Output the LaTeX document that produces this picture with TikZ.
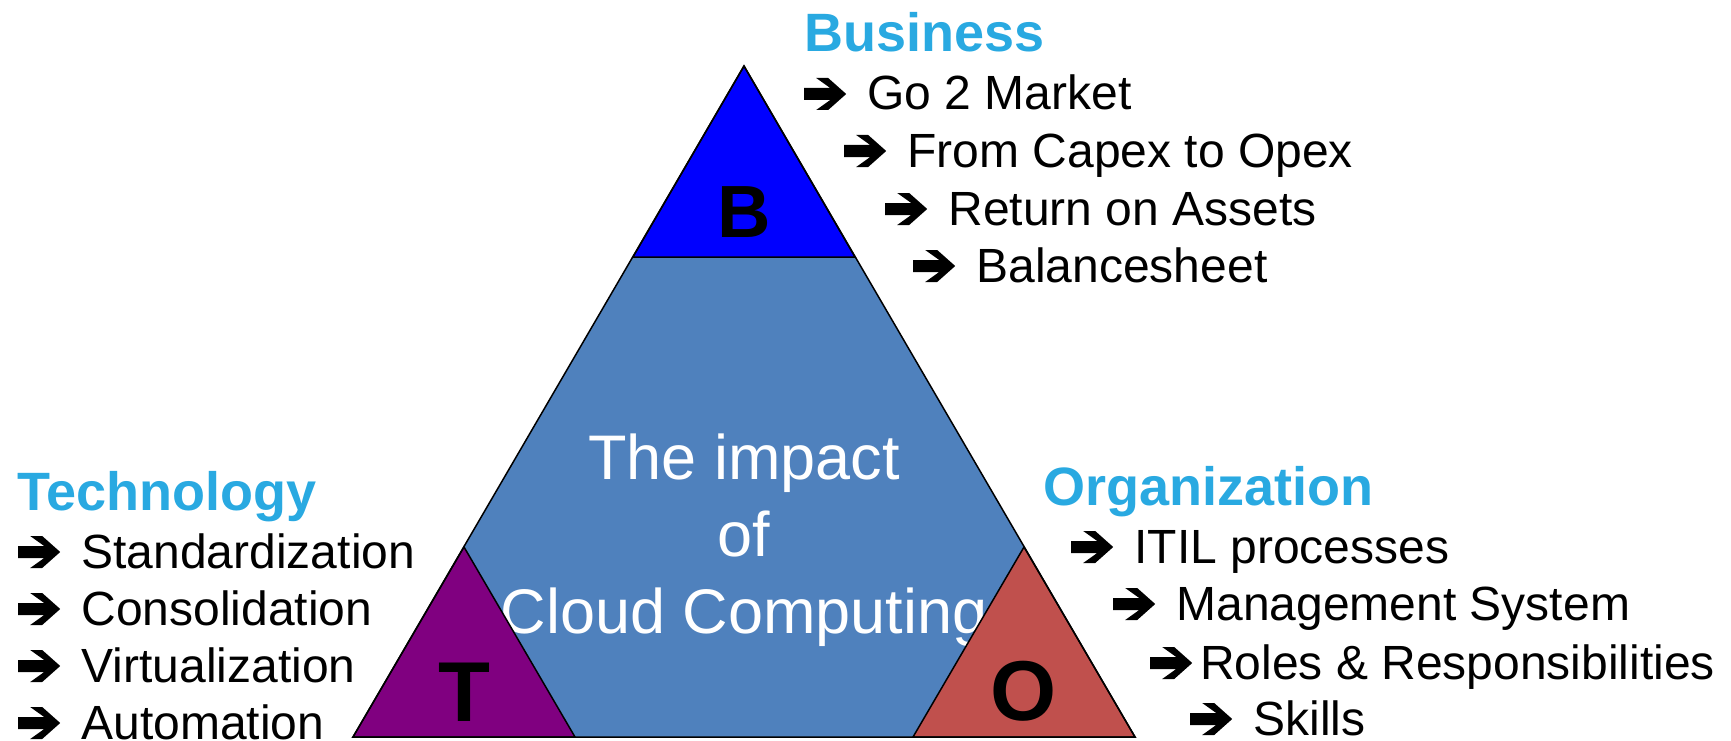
\documentclass[tikz,border=0pt]{standalone}
\usepackage{fontspec}
\setmainfont{Liberation Sans}
\usepackage{tikz}
\usetikzlibrary{positioning}
\definecolor{midblue}{HTML}{4F81BD}
\definecolor{bblue}{HTML}{0000FF}
\definecolor{tpurple}{HTML}{800080}
\definecolor{ored}{HTML}{C0504D}
\definecolor{headblue}{HTML}{29A9E1}
\tikzset{
    tri/.style = {draw=black, line width=1.5pt, line join=miter},
    head/.style = {anchor=base west, inner sep=0pt, text=headblue, font=\bfseries\fontsize{54}{60}\selectfont},
    item/.style = {anchor=base west, inner sep=0pt, font=\fontsize{48}{54}\selectfont},
    letter/.style = {anchor=base, inner sep=0pt, font=\bfseries\fontsize{85}{90}\selectfont},
    impact/.style = {anchor=base, inner sep=0pt, align=center, text=white, font=\fontsize{63}{77}\selectfont}
}
% heavy wide-headed arrow in front of every item
\newcommand{\arr}{\makebox[50pt][l]{\tikz[baseline=0pt,x=1pt,y=1pt]\fill[black] (0,10) -- (26,10) -- (12,0) -- (24,0) -- (42,16) -- (24,32) -- (12,32) -- (26,22) -- (0,22) -- cycle;}}

\begin{document}
\begin{tikzpicture}[x=1pt,y=-1pt]
\useasboundingbox (0,0) rectangle (1731,741);
% big triangle and its parts
\coordinate (top) at (744,66);
\coordinate (bl) at (353,737);
\coordinate (br) at (1135,737);
\coordinate (bL) at (633,257);
\coordinate (bR) at (855,257);
\coordinate (tT) at (464,547);
\coordinate (tR) at (575,737);
\coordinate (oT) at (1024,547);
\coordinate (oL) at (913,737);
\fill[midblue] (top) -- (bl) -- (br) -- cycle;
\filldraw[tri,fill=bblue] (top) -- (bL) -- (bR) -- cycle;
\node[impact] at (744,633) (impact) {The impact\\of\\Cloud Computing};
\filldraw[tri,fill=tpurple] (tT) -- (bl) -- (tR) -- cycle;
\filldraw[tri,fill=ored] (oT) -- (oL) -- (br) -- cycle;
\draw[tri] (top) -- (bl) -- (br) -- cycle;
\node[letter,font=\bfseries\fontsize{74}{80}\selectfont] at (744,237) (lb) {B};
\node[letter] at (464,721) (lt) {T};
\node[letter] at (1024,720) (lo) {O};
% business
\node[head] at (804,52) (business) {Business};
\node[item] at (804,110) (b1) {\arr{} Go 2 Market};
\node[item] at (844,167) (b2) {\arr{} From Capex to Opex};
\node[item] at (885,225) (b3) {\arr{} Return on Assets};
\node[item] at (913,282) (b4) {\arr{} Balancesheet};
% technology
\node[head] at (17,510) (technology) {Technology};
\node[item] at (18,568) (t1) {\arr{} Standardization};
\node[item] at (18,625) (t2) {\arr{} Consolidation};
\node[item] at (18,682) (t3) {\arr{} Virtualization};
\node[item] at (18,739) (t4) {\arr{} Automation};
% organization
\node[head] at (1043,505) (organization) {Organization};
\node[item] at (1071,563) (o1) {\arr{} ITIL processes};
\node[item] at (1113,620) (o2) {\arr{} Management System};
\node[item] at (1150,679) (o3) {\arr{}Roles \& Responsibilities};
\node[item] at (1190,735) (o4) {\arr{} Skills};
\end{tikzpicture}
\end{document}
